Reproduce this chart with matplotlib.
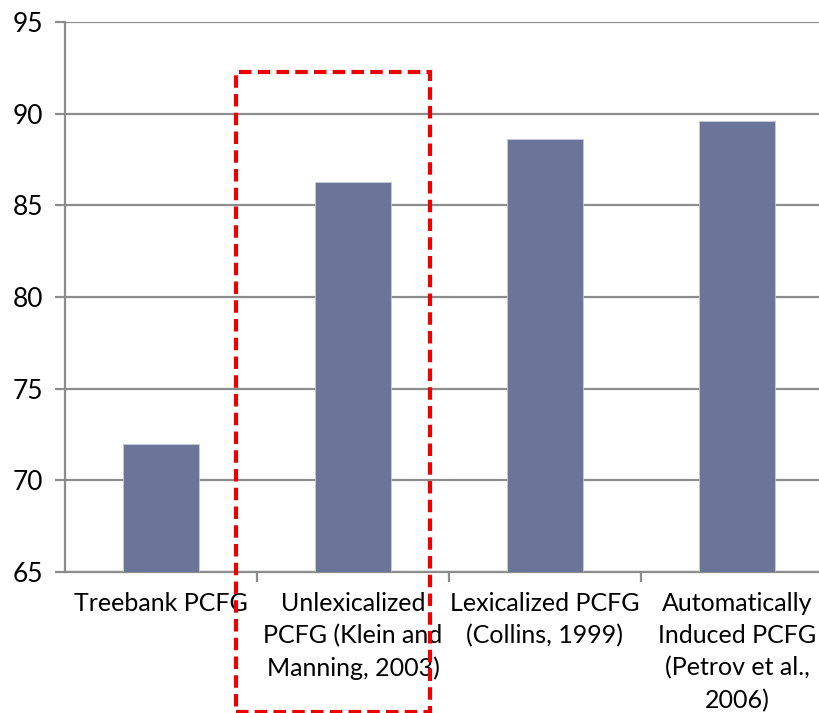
import matplotlib.pyplot as plt
from matplotlib.patches import Rectangle

# parsing F1 by model type
labels = [
    'Treebank PCFG',
    'Unlexicalized\nPCFG (Klein and\nManning, 2003)',
    'Lexicalized PCFG\n(Collins, 1999)',
    'Automatically\nInduced PCFG\n(Petrov et al.,\n2006)',
]
scores = [72.0, 86.3, 88.6, 89.6]
y_ticks = [65, 70, 75, 80, 85, 90, 95]

plt.rcParams['font.family'] = ['Lato', 'DejaVu Sans']

W, H = 819, 713
fig = plt.figure(figsize=(W / 100, H / 100), dpi=100)
ax = fig.add_axes([65 / W, (H - 572) / H, (833 - 65) / W, (572 - 22) / H])

grid_c = '#8c8c8c'
x = range(len(labels))
ax.bar(x, scores, width=0.4, bottom=0, color='#6b7599',
       edgecolor='#c8cad6', linewidth=0.6, zorder=3)

ax.set_xlim(-0.5, len(labels) - 0.5)
ax.set_ylim(65, 95)
ax.set_yticks(y_ticks)
ax.yaxis.grid(True, color=grid_c, linewidth=1.6, zorder=1)
ax.tick_params(axis='y', length=7, width=1.6, color=grid_c, labelsize=19, pad=9)

# category labels centred under bars, tick marks between categories
ax.set_xticks([i + 0.5 for i in range(len(labels) - 1)])
ax.set_xticklabels([])
ax.tick_params(axis='x', length=7, width=1.6, color=grid_c)
for i, lab in enumerate(labels):
    ax.text(i, 63.9, lab, ha='center', va='top', fontsize=18,
            linespacing=1.47, color='black')

for s in ['top', 'right']:
    ax.spines[s].set_visible(False)
for s in ['left', 'bottom']:
    ax.spines[s].set_color(grid_c)
    ax.spines[s].set_linewidth(1.6)

# highlight box around the unlexicalized model
box = Rectangle((0.391, 57.36), 1.01, 92.27 - 57.36, fill=False,
                edgecolor='#ee0000', linewidth=3, linestyle=(0, (3, 1.5)),
                clip_on=False, zorder=5)
ax.add_patch(box)

fig.savefig('out.png', dpi=100)
